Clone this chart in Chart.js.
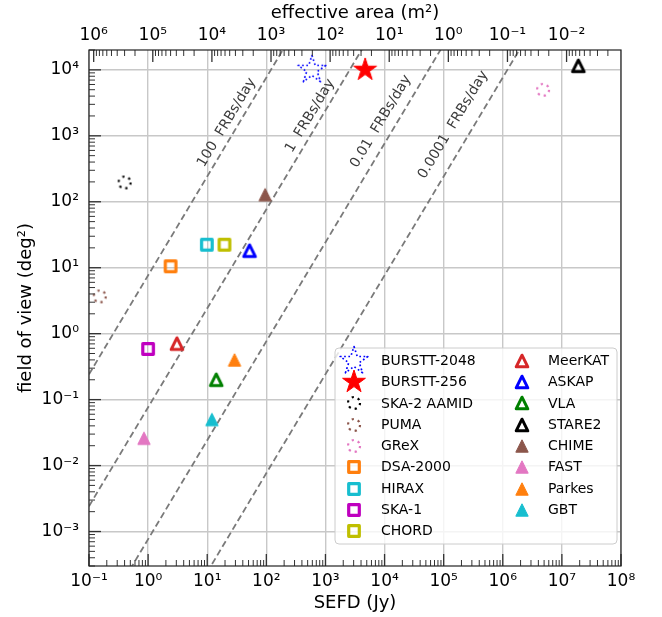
<!DOCTYPE html>
<html>
<head>
<meta charset="utf-8">
<script src="https://cdn.jsdelivr.net/npm/chart.js@4.4.1/dist/chart.umd.min.js"></script>
<style>html,body{margin:0;padding:0;background:#fff}</style>
</head>
<body>
<canvas id="c" width="662" height="617"></canvas>
<script>
// --- Instruments ---
const NAMES = ['BURSTT-2048', 'BURSTT-256', 'SKA-2 AAMID', 'PUMA', 'GReX', 'DSA-2000', 'HIRAX', 'SKA-1', 'CHORD',
               'MeerKAT', 'ASKAP', 'VLA', 'STARE2', 'CHIME', 'FAST', 'Parkes', 'GBT'];
const SEFD = [590, 4700, 0.40, 0.152, 4.8e6, 2.4, 9.85, 1.0, 19.6,
              3.07, 52, 14.2, 1.9e7, 95.5, 0.85, 29, 12];
const FOV  = [1.0e4, 1.0e4, 196, 3.67, 4980, 10.5, 22.3, 0.586, 22.3,
              0.705, 18.1, 0.20, 1.15e4, 128, 0.026, 0.40, 0.050];
const MARKERS = ['dstar', 'star', 'dcirc', 'dcirc', 'dcirc', 'osq', 'osq', 'osq', 'osq',
                 'otri', 'otri', 'otri', 'otri', 'ftri', 'ftri', 'ftri', 'ftri'];
const COLORS = ['#0000ff', '#ff0000', '#000000', '#8c564b', '#e377c2', '#ff7f0e', '#17becf', '#bf00bf', '#bfbf00',
                '#d62728', '#0000ff', '#008000', '#000000', '#8c564b', '#e377c2', '#ff7f0e', '#17becf'];

// --- Droites de taux FRB (extrémités à SEFD = 0.1 et 1e8) ---
const RATE_LABELS = ['100  FRBs/day', '1  FRBs/day', '0.01  FRBs/day', '0.0001  FRBs/day'];
const RATE_SEFD = [0.1, 1e8];
const RATE_FOV_START = [0.242, 2.42e-3, 2.42e-5, 2.42e-7];
const RATE_FOV_END   = [7.66e12, 7.66e10, 7.66e8, 7.66e6];
const RATE_TEXT_SEFD = [21.4, 550, 8700, 1.45e5];
const RATE_TEXT_FOV  = [1590, 2010, 1650, 1470];

// --- Axes ---
const X_DECADES = [-1, 0, 1, 2, 3, 4, 5, 6, 7, 8];
const Y_DECADES = [-4, -3, -2, -1, 0, 1, 2, 3, 4];
const AREA_DECADES = [-3, -2, -1, 0, 1, 2, 3, 4, 5, 6];
const X_MIN = 0.1, X_MAX = 1e8;
const Y_MIN = 3e-4, Y_MAX = 2e4;
const AREA_PER_SEFD = 1.2e5;   // aire effective = AREA_PER_SEFD / SEFD

const FONT = "'DejaVu Sans', sans-serif";
const GRID = '#c8c8c8';
const SUP = { '0': '⁰', '1': '¹', '2': '²', '3': '³', '4': '⁴', '5': '⁵', '6': '⁶', '7': '⁷', '8': '⁸', '9': '⁹', '-': '⁻' };

// --- Utilitaires ---
const isDecade = (v) => Math.abs(Math.log10(v) - Math.round(Math.log10(v))) < 1e-6;
const powLabel = (v) => isDecade(v) ? '10' + String(Math.round(Math.log10(v))).split('').map(c => SUP[c]).join('') : '';

function logTicks(decades, lo, hi) {
  const out = [];
  decades.forEach(k => {
    for (let m = 1; m < 10; m++) {
      const v = m * Math.pow(10, k);
      if (v >= lo * 0.9999 && v <= hi * 1.0001) out.push({ value: v, major: m === 1 });
    }
  });
  return out;
}

// --- Marqueurs dessinés sur canvas ---
function makeMarker(kind, color) {
  const s = 34;
  const c = document.createElement('canvas');
  c.width = s; c.height = s;
  const g = c.getContext('2d');
  g.translate(s / 2, s / 2);
  g.strokeStyle = color;
  g.fillStyle = color;
  g.lineJoin = 'round';
  g.beginPath();
  if (kind === 'star' || kind === 'dstar') {
    const R = kind === 'star' ? 12 : 14.5, r = R * 0.382;
    for (let i = 0; i < 10; i++) {
      const a = -Math.PI / 2 + i * Math.PI / 5;
      const rr = i % 2 ? r : R;
      g.lineTo(rr * Math.cos(a), rr * Math.sin(a));
    }
    g.closePath();
    if (kind === 'star') { g.fill(); g.lineWidth = 1; g.stroke(); }
    else { g.lineWidth = 1.7; g.setLineDash([1.7, 2.5]); g.stroke(); }
  } else if (kind === 'dcirc') {
    g.arc(0, 0, 6, 0, Math.PI * 2);
    g.lineWidth = 2.2;
    g.setLineDash([2.2, 4.1]);
    g.stroke();
  } else if (kind === 'osq') {
    g.rect(-5.3, -5.3, 10.6, 10.6);
    g.lineWidth = 3.2;
    g.stroke();
  } else if (kind === 'otri') {
    const h = 5.8;
    g.moveTo(0, -h); g.lineTo(h, h); g.lineTo(-h, h); g.closePath();
    g.lineWidth = 3;
    g.stroke();
  } else if (kind === 'ftri') {
    const h = 6.2;
    g.moveTo(0, -h); g.lineTo(h, h); g.lineTo(-h, h); g.closePath();
    g.fill();
    g.lineWidth = 1;
    g.stroke();
  }
  return c;
}
const MARKER_IMGS = MARKERS.map((m, i) => makeMarker(m, COLORS[i]));

// --- Datasets ---
const datasets = [];
RATE_LABELS.forEach((lab, i) => {
  datasets.push({
    label: lab,
    type: 'line',
    data: [{ x: RATE_SEFD[0], y: RATE_FOV_START[i] }, { x: RATE_SEFD[1], y: RATE_FOV_END[i] }],
    showLine: true,
    borderColor: '#7a7a7a',
    borderWidth: 1.8,
    borderDash: [6.5, 3.5],
    pointRadius: 0,
    fill: false,
    order: 5
  });
});
NAMES.forEach((name, i) => {
  datasets.push({
    label: name,
    data: [{ x: SEFD[i], y: FOV[i] }],
    pointStyle: MARKER_IMGS[i],
    pointRadius: 8,
    clip: false,
    order: 1
  });
});

// --- Plugin : ticks intérieurs, cadre, textes des droites, légende ---
const decorPlugin = {
  id: 'decor',
  afterDraw(chart) {
    const { ctx, chartArea: a, scales } = chart;
    ctx.save();

    // textes le long des droites
    ctx.font = '14px ' + FONT;
    ctx.fillStyle = '#3c3c3c';
    ctx.textAlign = 'center';
    ctx.textBaseline = 'middle';
    RATE_LABELS.forEach((lab, i) => {
      const x1 = scales.x.getPixelForValue(RATE_SEFD[0]), y1 = scales.y.getPixelForValue(RATE_FOV_START[i]);
      const x2 = scales.x.getPixelForValue(RATE_SEFD[1]), y2 = scales.y.getPixelForValue(RATE_FOV_END[i]);
      const ang = Math.atan2(y2 - y1, x2 - x1);
      ctx.save();
      ctx.translate(scales.x.getPixelForValue(RATE_TEXT_SEFD[i]), scales.y.getPixelForValue(RATE_TEXT_FOV[i]));
      ctx.rotate(ang);
      ctx.fillText(lab, 0, 0);
      ctx.restore();
    });

    // ticks vers l'intérieur
    ctx.strokeStyle = '#333';
    const tick = (scale, side) => {
      scale.ticks.forEach(t => {
        const len = t.major ? 12 : 6;
        ctx.lineWidth = t.major ? 1.3 : 1;
        const p = scale.getPixelForValue(t.value);
        ctx.beginPath();
        if (side === 'bottom') {
          if (p < a.left - 0.5 || p > a.right + 0.5) return;
          ctx.moveTo(p, a.bottom); ctx.lineTo(p, a.bottom - len);
        } else if (side === 'top') {
          if (p < a.left - 0.5 || p > a.right + 0.5) return;
          ctx.moveTo(p, a.top); ctx.lineTo(p, a.top + len);
        } else {
          if (p < a.top - 0.5 || p > a.bottom + 0.5) return;
          ctx.moveTo(a.left, p); ctx.lineTo(a.left + len, p);
        }
        ctx.stroke();
      });
    };
    tick(scales.x, 'bottom');
    tick(scales.x2, 'top');
    tick(scales.y, 'left');

    // cadre
    ctx.strokeStyle = '#222';
    ctx.lineWidth = 1.2;
    ctx.strokeRect(a.left, a.top, a.right - a.left, a.bottom - a.top);

    // légende (2 colonnes)
    const bx = 335, by = 348, bw = 282, bh = 196, r = 4;
    ctx.beginPath();
    ctx.moveTo(bx + r, by);
    ctx.arcTo(bx + bw, by, bx + bw, by + bh, r);
    ctx.arcTo(bx + bw, by + bh, bx, by + bh, r);
    ctx.arcTo(bx, by + bh, bx, by, r);
    ctx.arcTo(bx, by, bx + bw, by, r);
    ctx.closePath();
    ctx.fillStyle = 'rgba(255,255,255,0.8)';
    ctx.fill();
    ctx.strokeStyle = '#cccccc';
    ctx.lineWidth = 1;
    ctx.stroke();

    ctx.font = '14px ' + FONT;
    ctx.fillStyle = '#000';
    ctx.textAlign = 'left';
    ctx.textBaseline = 'middle';
    NAMES.forEach((name, i) => {
      const col = i < 9 ? 0 : 1;
      const row = col ? i - 9 : i;
      const mx = col ? 522 : 354;
      const tx = col ? 548 : 381;
      const y = 360.7 + row * 21.33;
      const img = MARKER_IMGS[i];
      ctx.drawImage(img, Math.round(mx - img.width / 2), Math.round(y - img.height / 2));
      ctx.fillText(name, tx, y + 0.5);
    });

    ctx.restore();
  }
};

const tickFont = { family: FONT, size: 17 };
const titleFont = { family: FONT, size: 18 };
const gridColor = (c) => (c.tick && c.tick.major) ? GRID : 'rgba(0,0,0,0)';

new Chart(document.getElementById('c'), {
  type: 'scatter',
  data: { datasets },
  options: {
    responsive: false,
    animation: false,
    layout: { padding: { left: 0, right: 41, top: 0, bottom: 0 } },
    plugins: { legend: { display: false }, tooltip: { enabled: false } },
    scales: {
      x: {
        type: 'logarithmic', position: 'bottom', min: X_MIN, max: X_MAX,
        afterBuildTicks: (s) => { s.ticks = logTicks(X_DECADES, X_MIN, X_MAX); },
        afterFit: (s) => { s.height = 51; },
        grid: { color: gridColor, lineWidth: 1.4, drawTicks: false },
        border: { display: false },
        ticks: { autoSkip: false, maxRotation: 0, padding: 5, color: '#000', font: tickFont, callback: powLabel },
        title: { display: true, text: 'SEFD (Jy)', color: '#000', font: titleFont, padding: { top: 0, bottom: 3 } }
      },
      x2: {
        type: 'logarithmic', position: 'top', reverse: true,
        min: AREA_PER_SEFD / X_MAX, max: AREA_PER_SEFD / X_MIN,
        afterBuildTicks: (s) => { s.ticks = logTicks(AREA_DECADES, AREA_PER_SEFD / X_MAX, AREA_PER_SEFD / X_MIN); },
        afterFit: (s) => { s.height = 50; },
        grid: { display: false, drawTicks: false },
        border: { display: false },
        ticks: { autoSkip: false, maxRotation: 0, padding: 4, color: '#000', font: tickFont, callback: powLabel },
        title: { display: true, text: 'effective area (m²)', color: '#000', font: titleFont, padding: { top: 3, bottom: 0 } }
      },
      y: {
        type: 'logarithmic', position: 'left', min: Y_MIN, max: Y_MAX,
        afterBuildTicks: (s) => { s.ticks = logTicks(Y_DECADES, Y_MIN, Y_MAX); },
        afterFit: (s) => { s.width = 89; },
        grid: { color: gridColor, lineWidth: 1.4, drawTicks: false },
        border: { display: false },
        ticks: { autoSkip: false, padding: 10, color: '#000', font: tickFont, callback: powLabel },
        title: { display: true, text: 'field of view (deg²)', color: '#000', font: titleFont, padding: { top: 16, bottom: 0 } }
      }
    }
  },
  plugins: [decorPlugin]
});
</script>
</body>
</html>
